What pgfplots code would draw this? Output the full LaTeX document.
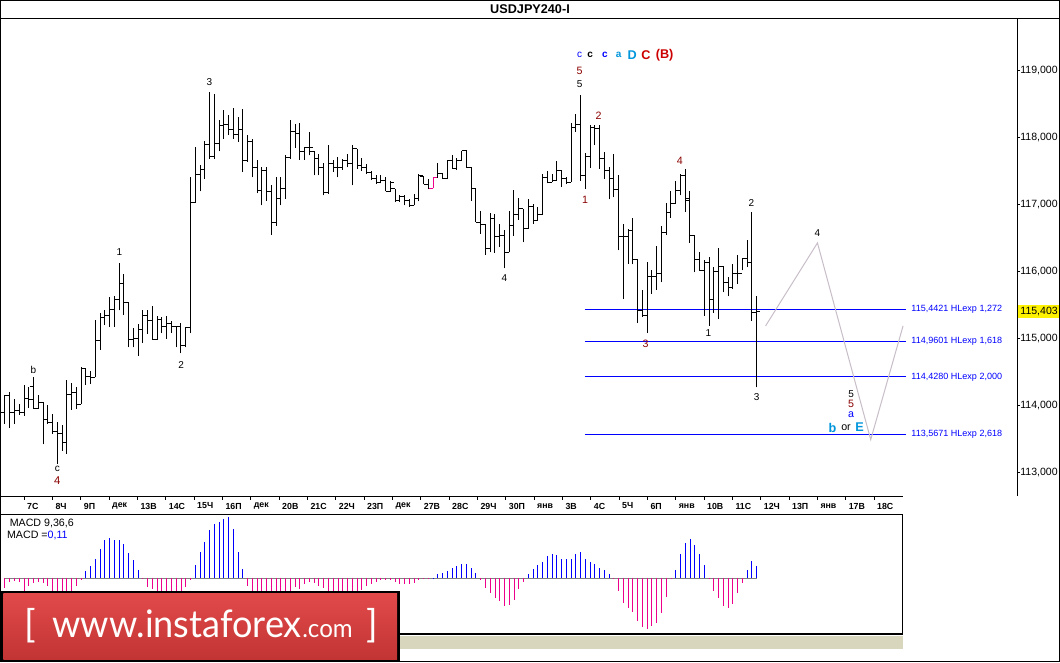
\documentclass[border=0pt]{standalone}
\usepackage{fontspec}
\setmainfont{Liberation Sans}
\newfontfamily\logofont{Lato}
\usepackage{pgfplots}
\pgfplotsset{compat=1.18}
\usepackage{pgfplotstable}

\definecolor{wdark}{RGB}{139,0,0}
\definecolor{wsky}{RGB}{0,150,220}
\definecolor{wred}{RGB}{204,0,0}
\definecolor{projgray}{RGB}{200,190,200}
\definecolor{hatchc}{RGB}{216,214,188}
\definecolor{logotop}{RGB}{226,74,74}
\definecolor{logobot}{RGB}{194,52,52}

\pgfdeclareplotmark{lt}{\pgfpathmoveto{\pgfqpoint{-2.9pt}{0pt}}\pgfpathlineto{\pgfqpoint{0pt}{0pt}}\pgfusepathqstroke}
\pgfdeclareplotmark{rt}{\pgfpathmoveto{\pgfqpoint{0pt}{0pt}}\pgfpathlineto{\pgfqpoint{2.9pt}{0pt}}\pgfusepathqstroke}
\pgfdeclareplotmark{nothing}{}

\newcommand\fs[1]{\fontsize{#1}{#1}\selectfont}

\pgfplotstableread{
j O H L C
0 113.89 114.16 113.73 114.15
1 114.15 114.20 113.67 113.89
2 113.89 114.10 113.72 113.92
3 113.92 114.02 113.86 113.89
4 113.89 114.31 113.85 114.10
5 114.10 114.27 113.97 114.09
6 114.29 114.42 113.95 113.95
7 113.95 114.15 113.95 114.05
8 114.05 114.05 113.42 113.79
9 113.79 114.01 113.72 113.75
10 113.75 113.87 113.58 113.61
11 113.61 113.75 113.13 113.58
12 113.58 113.71 113.32 113.45
13 113.45 114.38 113.28 114.17
14 114.17 114.34 113.94 114.20
15 114.20 114.27 113.95 114.02
16 114.02 114.57 114.02 114.56
17 114.56 114.56 114.31 114.44
18 114.44 114.52 114.32 114.42
19 114.42 115.28 114.42 114.97
20 114.97 115.38 114.83 115.31
21 115.31 115.42 115.20 115.35
22 115.35 115.62 115.17 115.43
23 115.43 115.64 115.18 115.58
24 115.58 116.13 115.42 115.83
25 115.83 115.96 115.36 115.54
26 115.54 115.54 114.87 114.98
27 114.98 115.16 114.87 115.00
28 115.00 115.22 114.74 115.14
29 115.14 115.42 114.94 115.34
30 115.34 115.42 115.07 115.27
31 115.27 115.49 114.98 114.98
32 114.98 115.34 114.98 115.28
33 115.28 115.32 115.08 115.18
34 115.18 115.34 115.00 115.22
35 115.22 115.27 115.09 115.18
36 115.18 115.19 114.87 115.18
37 115.18 115.23 114.78 114.89
38 114.89 115.17 114.87 115.16
39 115.16 117.41 115.08 117.03
40 117.03 117.87 117.03 117.46
41 117.46 117.59 117.20 117.53
42 117.53 117.96 117.39 117.90
43 117.90 118.69 117.69 117.72
44 117.72 118.65 117.69 117.92
45 117.92 118.26 117.80 118.19
46 118.19 118.41 117.99 118.20
47 118.20 118.34 118.04 118.12
48 118.12 118.45 117.99 118.05
49 118.05 118.31 117.94 118.12
50 118.12 118.43 117.49 117.66
51 117.66 118.05 117.64 117.95
52 117.95 117.98 117.41 117.55
53 117.55 117.67 117.17 117.21
54 117.21 117.57 116.99 117.51
55 117.51 117.56 117.06 117.20
56 117.20 117.30 116.55 116.73
57 116.73 117.41 116.69 117.10
58 117.10 117.42 116.99 117.25
59 117.25 117.75 117.09 117.70
60 117.70 118.26 117.69 118.10
61 118.10 118.21 117.85 118.07
62 118.07 118.22 117.67 117.80
63 117.80 117.86 117.67 117.85
64 117.85 118.09 117.74 117.85
65 117.80 117.81 117.44 117.69
66 117.69 117.76 117.44 117.55
67 117.55 117.62 117.14 117.18
68 117.18 117.89 117.16 117.61
69 117.61 117.67 117.49 117.55
70 117.55 117.72 117.41 117.55
71 117.55 117.69 117.52 117.66
72 117.66 117.76 117.56 117.62
73 117.62 117.89 117.29 117.84
74 117.84 117.84 117.54 117.59
75 117.59 117.70 117.51 117.56
76 117.56 117.61 117.46 117.48
77 117.48 117.51 117.37 117.40
78 117.40 117.44 117.31 117.34
79 117.34 117.45 117.32 117.37
80 117.37 117.41 117.20 117.20
81 117.20 117.36 117.19 117.34
82 117.24 117.24 117.04 117.06
83 117.06 117.15 117.04 117.13
84 117.13 117.15 116.99 117.06
85 117.06 117.09 116.97 116.99
86 116.99 117.16 116.99 117.10
87 117.10 117.46 117.05 117.44
88 117.42 117.42 117.31 117.31
89 117.31 117.38 117.23 117.25
90 117.25 117.42 117.25 117.41
91 117.41 117.63 117.41 117.47
92 117.47 117.48 117.39 117.39
93 117.39 117.67 117.39 117.66
94 117.66 117.74 117.54 117.54
95 117.54 117.70 117.52 117.66
96 117.66 117.81 117.66 117.81
97 117.81 117.82 117.56 117.56
98 117.56 117.57 117.06 117.24
99 117.24 117.24 116.74 116.74
100 116.74 116.91 116.57 116.71
101 116.71 116.72 116.25 116.34
102 116.34 116.88 116.29 116.80
103 116.80 116.86 116.28 116.52
104 116.52 116.72 116.37 116.54
105 116.54 116.62 116.05 116.29
106 116.29 116.90 116.29 116.69
107 116.69 117.22 116.53 116.85
108 116.85 117.10 116.78 116.94
109 116.94 116.94 116.44 116.64
110 116.64 117.08 116.64 116.97
111 116.97 117.01 116.72 116.77
112 116.77 116.97 116.77 116.86
113 116.86 117.46 116.86 117.41
114 117.41 117.51 117.32 117.34
115 117.34 117.46 117.34 117.36
116 117.36 117.66 117.36 117.51
117 117.51 117.52 117.27 117.39
118 117.39 117.41 117.31 117.34
119 117.34 118.22 117.34 118.16
120 118.16 118.36 118.09 118.20
121 118.20 118.64 117.36 117.44
122 117.44 117.77 117.24 117.72
123 117.72 118.19 117.55 118.16
124 118.16 118.19 117.89 118.14
125 118.14 118.20 117.54 117.69
126 117.69 117.79 117.39 117.52
127 117.52 117.57 117.08 117.39
128 117.39 117.76 117.11 117.23
129 117.23 117.44 116.32 116.52
130 116.52 116.71 115.59 116.52
131 116.52 116.64 116.12 116.62
132 116.62 116.80 116.11 116.18
133 116.18 116.19 115.23 115.42
134 115.42 115.72 115.32 115.35
135 115.35 116.14 115.08 115.93
136 115.93 116.02 115.67 115.93
137 115.93 116.39 115.73 115.97
138 115.97 116.69 115.84 116.59
139 116.59 117.02 116.55 116.89
140 116.89 117.20 116.81 117.02
141 117.02 117.36 117.01 117.22
142 117.22 117.46 117.14 117.44
143 117.44 117.54 116.89 117.10
144 117.07 117.20 116.43 116.54
145 116.54 116.54 115.99 116.18
146 116.18 116.29 116.02 116.02
147 116.02 116.18 115.34 116.13
148 116.13 116.22 115.19 115.58
149 115.58 116.07 115.39 116.01
150 116.01 116.36 115.29 116.08
151 116.08 116.09 115.69 115.84
152 115.84 115.92 115.63 115.76
153 115.76 116.12 115.74 115.97
154 115.97 116.25 115.82 115.97
155 115.97 116.21 116.02 116.19
156 116.19 116.48 116.07 116.14
157 116.14 116.89 115.27 115.39
158 115.39 115.63 114.27 115.41
}\bars

\pgfplotstableread{
j v
0 -0.100
1 -0.045
2 -0.030
3 -0.043
4 -0.130
5 -0.080
6 -0.050
7 -0.040
8 -0.050
9 -0.080
10 -0.130
11 -0.160
12 -0.190
13 -0.180
14 -0.150
15 -0.085
16 -0.020
17 0.065
18 0.116
19 0.190
20 0.294
21 0.375
22 0.395
23 0.380
24 0.380
25 0.340
26 0.252
27 0.176
28 0.076
29 -0.010
30 -0.090
31 -0.115
32 -0.140
33 -0.160
34 -0.180
35 -0.190
36 -0.180
37 -0.150
38 -0.090
39 -0.023
40 0.125
41 0.255
42 0.360
43 0.475
44 0.535
45 0.560
46 0.590
47 0.610
48 0.485
49 0.263
50 0.085
51 -0.080
52 -0.150
53 -0.200
54 -0.240
55 -0.260
56 -0.280
57 -0.250
58 -0.220
59 -0.160
60 -0.130
61 -0.090
62 -0.110
63 -0.060
64 -0.040
65 -0.050
66 -0.080
67 -0.100
68 -0.140
69 -0.160
70 -0.180
71 -0.200
72 -0.200
73 -0.180
74 -0.150
75 -0.120
76 -0.080
77 -0.060
78 -0.040
79 -0.023
80 -0.025
81 -0.025
82 -0.040
83 -0.060
84 -0.065
85 -0.060
86 -0.050
87 -0.025
88 -0.012
89 -0.007
90 0.004
91 0.039
92 0.053
93 0.073
94 0.097
95 0.121
96 0.139
97 0.139
98 0.104
99 0.049
100 -0.020
101 -0.096
102 -0.153
103 -0.205
104 -0.230
105 -0.276
106 -0.270
107 -0.216
108 -0.110
109 -0.037
110 0.043
111 0.092
112 0.126
113 0.159
114 0.217
115 0.237
116 0.227
117 0.193
118 0.186
119 0.186
120 0.237
121 0.257
122 0.193
123 0.156
124 0.143
125 0.103
126 0.077
127 0.043
128 -0.010
129 -0.135
130 -0.247
131 -0.298
132 -0.339
133 -0.427
134 -0.494
135 -0.511
136 -0.484
137 -0.450
138 -0.349
139 -0.190
140 -0.010
141 0.077
142 0.239
143 0.354
144 0.391
145 0.330
146 0.239
147 0.128
148 -0.010
149 -0.128
150 -0.196
151 -0.280
152 -0.304
153 -0.263
154 -0.155
155 -0.054
156 0.077
157 0.171
158 0.117
}\macd

\begin{document}
\begin{tikzpicture}
\useasboundingbox (0pt,0pt) rectangle (795pt,-496.5pt);
\fill[white] (0pt,0pt) rectangle (795pt,-496.5pt);

% ---------------- main price axis
\begin{axis}[at={(0pt,-372pt)}, anchor=south west, scale only axis,
  width=763.1pt, height=358.05pt,
  xmin=-1.051, xmax=212.85, ymin=112.647, ymax=119.783,
  axis x line=none, axis y line*=right,
  axis line style={-, line width=0.75pt, black},
  ytick={113,114,115,116,117,118,119},
  yticklabels={{113,000},{114,000},{115,000},{116,000},{117,000},{118,000},{119,000}},
  tick align=outside, major tick length=2pt,
  ytick style={line width=0.75pt, black},
  yticklabel style={font=\fs{7.9}, anchor=west, inner sep=0pt, xshift=0pt},
  clip=false]
% HLexp levels
\addplot[blue, line width=0.75pt] coordinates {(121.9,115.4421) (189.4,115.4421)};
\addplot[blue, line width=0.75pt] coordinates {(121.9,114.9601) (189.4,114.9601)};
\addplot[blue, line width=0.75pt] coordinates {(121.9,114.4280) (189.4,114.4280)};
\addplot[blue, line width=0.75pt] coordinates {(121.9,113.5671) (189.4,113.5671)};
% projection
\addplot[projgray, line width=0.75pt] coordinates {(159.9,115.19) (170.8,116.43) (182.0,113.49) (188.8,115.19)};
% OHLC bars: high-low range
\addplot[only marks, mark=nothing, error bars/.cd, y dir=plus, y explicit, error mark=none,
  error bar style={draw=black, line width=0.75pt}]
  table[x=j, y=L, y error expr=\thisrow{H}-\thisrow{L}] {\bars};
% open and close ticks
\addplot[only marks, mark=lt, mark options={draw=black, line width=0.75pt}] table[x=j, y=O] {\bars};
\addplot[only marks, mark=rt, mark options={draw=black, line width=0.75pt}] table[x=j, y=C] {\bars};
% highlighted bar
\addplot[magenta, line width=0.75pt] coordinates {(90,117.25) (90,117.42)};
\addplot[only marks, mark=lt, mark options={draw=magenta, line width=0.75pt}] coordinates {(90,117.25)};
\addplot[only marks, mark=rt, mark options={draw=magenta, line width=0.75pt}] coordinates {(90,117.41)};
% labels
\node[anchor=west, inner sep=0pt, text=blue, font=\fs{6.77}] at (axis cs:190.5,115.4421) {115,4421 HLexp 1,272};
\node[anchor=west, inner sep=0pt, text=blue, font=\fs{6.77}] at (axis cs:190.5,114.9601) {114,9601 HLexp 1,618};
\node[anchor=west, inner sep=0pt, text=blue, font=\fs{6.77}] at (axis cs:190.5,114.4280) {114,4280 HLexp 2,000};
\node[anchor=west, inner sep=0pt, text=blue, font=\fs{6.77}] at (axis cs:190.5,113.5671) {113,5671 HLexp 2,618};
\node[anchor=west, fill=yellow, inner sep=0pt, minimum height=9.4pt, minimum width=32pt, font=\fs{7.9}] at (axis cs:212.85,115.403) {115,403};
\end{axis}

% ---------------- time scale
\begin{axis}[at={(0pt,-372pt)}, anchor=north west, scale only axis,
  width=677.2pt, height=14pt,
  xmin=-1.051, xmax=188.75, ymin=0, ymax=1,
  axis x line*=top, axis y line=none,
  axis line style={-, line width=0.75pt, black},
  xtick={4.06,10.01,15.97,21.92,27.88,33.83,39.79,45.75,51.70,57.66,63.61,69.57,75.52,81.48,87.43,93.39,99.34,105.30,111.25,117.21,123.17,129.12,135.08,141.03,146.99,152.94,158.90,164.85,170.81,176.76,182.72},
  xticklabels={7С,8Ч,9П,дек,13В,14С,15Ч,16П,дек,20В,21С,22Ч,23П,дек,27В,28С,29Ч,30П,янв,3В,4С,5Ч,6П,янв,10В,11С,12Ч,13П,янв,17В,18С},
  xtick align=inside, major tick length=3pt,
  xtick style={line width=0.75pt, black},
  xticklabel style={font=\bfseries\fs{6.6}, anchor=west, inner sep=0pt, xshift=2pt, yshift=-7.5pt}]
\addplot[draw=none] coordinates {(0,0.5)};
\end{axis}

% ---------------- MACD
\begin{axis}[at={(0pt,-386pt)}, anchor=north west, scale only axis,
  width=677.2pt, height=89.25pt,
  xmin=-1.051, xmax=188.75, ymin=-0.557, ymax=0.633,
  xtick=\empty, ytick=\empty,
  axis line style={line width=0.75pt, black}]
\addplot[gray, line width=0.5pt] coordinates {(0,0) (158,0)};
\addplot[ycomb, blue, line width=0.75pt, mark=none, restrict y to domain=0.0001:1] table[x=j, y=v] {\macd};
\addplot[ycomb, magenta, line width=0.75pt, mark=none, restrict y to domain=-1:-0.0001] table[x=j, y=v] {\macd};
\end{axis}

% ---------------- overlays (pixel coordinates)
\begin{scope}[x=0.75pt, y=-0.75pt]
\draw[line width=1.2pt] (0,633.7) -- (902.9,633.7);
\fill[hatchc] (0,636) rectangle (902.9,649);
\draw[line width=0.75pt] (0,18.6) -- (1060,18.6);
\draw[line width=0.75pt] (0.5,0.5) rectangle (1059.5,661.5);
\node[font=\bfseries\fs{9.5}] at (530,9.5) {USDJPY240-I};

\node[anchor=west, inner sep=0pt, font=\fs{8}] at (9.5,523) {MACD 9,36,6};
\node[anchor=west, inner sep=0pt, font=\fs{8}] at (6.8,535) {MACD =\textcolor{blue}{0,11}};

% wave labels
\node[font=\fs{7.5}] at (33.3,370) {b};
\node[font=\fs{7.5}] at (57.3,469.3) {c};
\node[text=wdark, font=\fs{8.5}] at (57.3,481) {4};
\node[font=\fs{7.5}] at (119.3,251.7) {1};
\node[font=\fs{7.5}] at (181.2,364.8) {2};
\node[font=\fs{7.5}] at (209.3,81.7) {3};
\node[font=\fs{7.5}] at (504.3,278.5) {4};
\node[text=wdark, font=\fs{8}] at (579.7,71) {5};
\node[font=\fs{7.5}] at (579.7,84.5) {5};
\node[text=wdark, font=\fs{8}] at (598.5,115.8) {2};
\node[text=wdark, font=\fs{8}] at (585,200) {1};
\node[text=wdark, font=\fs{8}] at (679.8,161.3) {4};
\node[text=wdark, font=\fs{8}] at (645.7,344.3) {3};
\node[font=\fs{7.5}] at (708.3,333.3) {1};
\node[font=\fs{7.5}] at (751.3,203.3) {2};
\node[font=\fs{7.5}] at (756.7,396.7) {3};
\node[font=\fs{7.5}] at (817.4,232.6) {4};
\node[font=\fs{7.5}] at (851.2,393.6) {5};
\node[text=wdark, font=\fs{8}] at (851.2,404) {5};
\node[text=blue, font=\fs{8}] at (851.2,414.5) {a};
\node[text=wsky, font=\bfseries\fs{9.5}] at (832.6,428.4) {b};
\node[font=\fs{8}] at (846,428) {or};
\node[text=wsky, font=\bfseries\fs{9.5}] at (859.6,427.5) {E};
\node[text=blue, font=\fs{7.5}] at (579.7,54.8) {c};
\node[font=\bfseries\fs{7.5}] at (590.2,54.8) {c};
\node[text=blue, font=\bfseries\fs{7.5}] at (605,54.8) {c};
\node[text=wsky, font=\bfseries\fs{7.5}] at (618.6,54.8) {a};
\node[text=wsky, font=\bfseries\fs{9.5}] at (632.1,54.8) {D};
\node[text=wred, font=\bfseries\fs{9.5}] at (646,54.8) {C};
\node[text=wred, font=\bfseries\fs{9.5}] at (664.6,54.8) {(B)};

% logo
\fill[black] (0,590.5) rectangle (400,662);
\shade[top color=logotop, bottom color=logobot] (3.4,593) rectangle (397,659.5);
\node[anchor=base west, inner sep=0pt, text=white, font=\logofont\fs{28.5}] at (24,637.7) {[};
\node[anchor=base west, inner sep=0pt, text=white, font=\logofont\fs{28.5}] at (52,637.7) {\scalebox{0.95}[1]{www.instaforex}};
\node[anchor=base west, inner sep=0pt, text=white, font=\logofont\fs{19}] at (302,637.7) {\scalebox{0.95}[1]{.com}};
\node[anchor=base west, inner sep=0pt, text=white, font=\logofont\fs{28.5}] at (366,637.7) {]};
\end{scope}
\end{tikzpicture}
\end{document}
